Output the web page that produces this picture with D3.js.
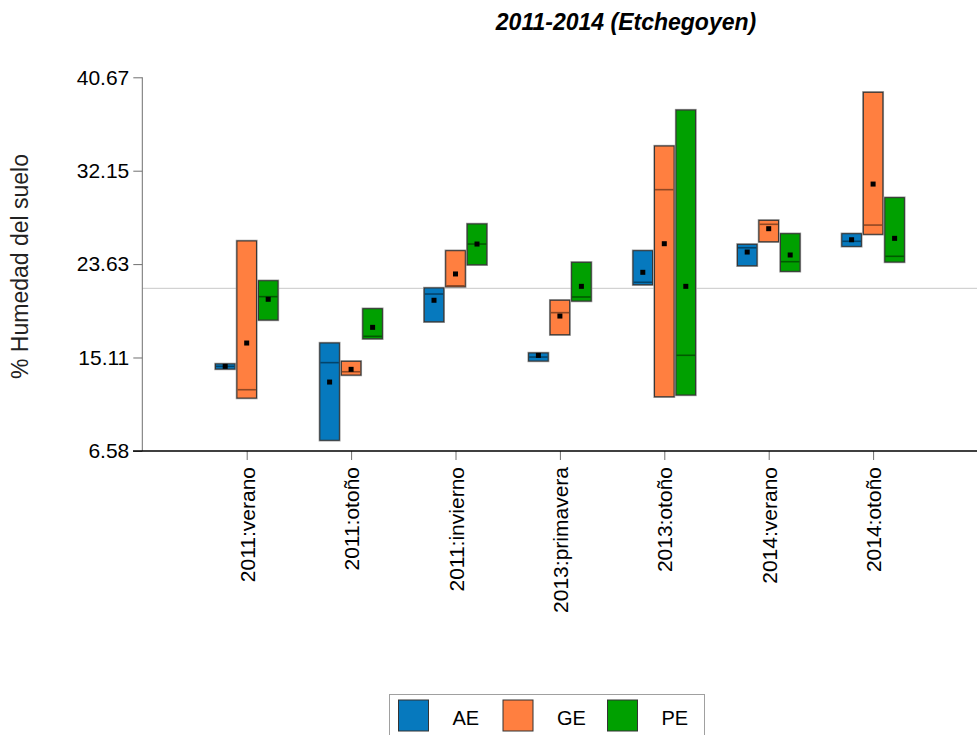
<!DOCTYPE html>
<html>
<head>
<meta charset="utf-8">
<script src="https://cdn.jsdelivr.net/npm/d3@7/dist/d3.min.js"></script>
<style>
  html, body { margin: 0; padding: 0; background: #fff; }
  svg { display: block; font-family: "Liberation Sans", Arial, sans-serif; }
</style>
</head>
<body>
<svg id="chart" width="977" height="735"></svg>
<script>
const categories = ["2011:verano","2011:otoño","2011:invierno","2013:primavera","2013:otoño","2014:verano","2014:otoño"];
const groups = ["AE","GE","PE"];
const groupColors = ["#0679BE","#FF7F40","#00A000"];
const yTicks = [6.58, 15.11, 23.63, 32.15, 40.67];
const yDomain = [6.58, 40.67];
const refLine = 21.42;

const AE_low    = [14.06, 7.56, 18.37, 14.79, 21.75, 23.48, 25.25];
const AE_high   = [14.52, 16.43, 21.45, 15.52, 24.85, 25.43, 26.40];
const AE_median = [14.30, 14.64, 20.90, 15.15, 21.97, 25.12, 25.71];
const AE_mean   = [14.30, 12.87, 20.33, 15.30, 22.88, 24.73, 25.85];

const GE_low    = [11.41, 13.51, 21.57, 17.19, 11.53, 25.67, 26.35];
const GE_high   = [25.74, 14.76, 24.85, 20.33, 34.40, 27.62, 39.30];
const GE_median = [12.17, 13.81, 21.65, 19.20, 30.42, 27.26, 27.19];
const GE_mean   = [16.43, 14.03, 22.73, 18.89, 25.49, 26.86, 30.93];

const PE_low    = [18.53, 16.82, 23.57, 20.26, 11.69, 22.97, 23.82];
const PE_high   = [22.11, 19.56, 27.29, 23.79, 37.68, 26.40, 29.69];
const PE_median = [20.66, 17.04, 25.46, 20.63, 15.31, 23.85, 24.34];
const PE_mean   = [20.42, 17.86, 25.46, 21.60, 21.60, 24.46, 25.98];

const seriesData = {
  AE: {low: AE_low, high: AE_high, median: AE_median, mean: AE_mean},
  GE: {low: GE_low, high: GE_high, median: GE_median, mean: GE_mean},
  PE: {low: PE_low, high: PE_high, median: PE_median, mean: PE_mean}
};

const svg = d3.select("#chart");
const mLeft = 142.3, mRight = 977.5, mTop = 77.3, mBottom = 451;

const x = d3.scalePoint().domain(categories).range([mLeft, mRight]).padding(1);
const y = d3.scaleLinear().domain(yDomain).range([mBottom, mTop]);
const xs = d3.scaleBand().domain(groups).range([-31.25, 31.25]).paddingInner(0.093);
const color = d3.scaleOrdinal().domain(groups).range(groupColors);

// title
svg.append("text")
  .attr("x", 626).attr("y", 30)
  .attr("text-anchor", "middle")
  .attr("font-size", 23).attr("font-weight", "bold").attr("font-style", "italic")
  .attr("fill", "#000")
  .text("2011-2014 (Etchegoyen)");

// reference line
svg.append("line")
  .attr("x1", mLeft).attr("x2", 977)
  .attr("y1", y(refLine)).attr("y2", y(refLine))
  .attr("stroke", "#c8c8c8").attr("stroke-width", 1);

// y axis
const yAxis = d3.axisLeft(y).tickValues(yTicks).tickFormat(d => d.toFixed(2)).tickSize(9).tickPadding(4);
const gy = svg.append("g").attr("transform", `translate(${mLeft},0)`).call(yAxis);
gy.select(".domain").attr("stroke", "#707070").attr("d", `M0,${mTop}V${mBottom}`);
gy.selectAll(".tick line").attr("stroke", "#707070");
gy.selectAll(".tick text").attr("font-size", 21).attr("fill", "#000")
  .attr("font-family", "Liberation Sans, Arial, sans-serif");

// x axis
const xAxis = d3.axisBottom(x).tickSize(9).tickSizeOuter(0);
const gx = svg.append("g").attr("transform", `translate(0,${mBottom})`).call(xAxis);
gx.select(".domain").remove();
gx.selectAll(".tick line").attr("stroke", "#707070");
gx.selectAll(".tick text")
  .attr("font-size", 21).attr("fill", "#000")
  .attr("font-family", "Liberation Sans, Arial, sans-serif")
  .attr("text-anchor", "end")
  .attr("transform", "rotate(-90)")
  .attr("x", -16).attr("y", 0).attr("dy", "0.36em");
svg.append("line")
  .attr("x1", 133).attr("x2", 977)
  .attr("y1", mBottom).attr("y2", mBottom)
  .attr("stroke", "#000").attr("stroke-width", 1.4);

// y axis title
svg.append("text")
  .attr("transform", `translate(28,266.5) rotate(-90)`)
  .attr("text-anchor", "middle")
  .attr("font-size", 23).attr("fill", "#222")
  .text("% Humedad del suelo");

// boxes
const boxes = [];
groups.forEach(g => {
  categories.forEach((c, i) => {
    const s = seriesData[g];
    boxes.push({g, c, low: s.low[i], high: s.high[i], median: s.median[i], mean: s.mean[i]});
  });
});

const gb = svg.append("g");
const item = gb.selectAll("g.box").data(boxes).join("g").attr("class", "box");
item.append("rect")
  .attr("x", d => x(d.c) + xs(d.g))
  .attr("y", d => y(d.high))
  .attr("width", xs.bandwidth())
  .attr("height", d => y(d.low) - y(d.high))
  .attr("fill", d => color(d.g))
  .attr("stroke", "#9a9a9a").attr("stroke-width", 2.4);
item.append("rect")
  .attr("x", d => x(d.c) + xs(d.g))
  .attr("y", d => y(d.high))
  .attr("width", xs.bandwidth())
  .attr("height", d => y(d.low) - y(d.high))
  .attr("fill", d => color(d.g))
  .attr("stroke", "#333").attr("stroke-width", 1);
item.append("line")
  .attr("x1", d => x(d.c) + xs(d.g) + 0.5)
  .attr("x2", d => x(d.c) + xs(d.g) + xs.bandwidth() - 0.5)
  .attr("y1", d => y(d.median)).attr("y2", d => y(d.median))
  .attr("stroke", d => d3.color(color(d.g)).darker(1.6))
  .attr("stroke-width", 1.6);
item.append("rect")
  .attr("x", d => x(d.c) + xs(d.g) + xs.bandwidth() / 2 - 2.5)
  .attr("y", d => y(d.mean) - 2.5)
  .attr("width", 5).attr("height", 5)
  .attr("fill", "#000");

// legend
const lg = svg.append("g");
lg.append("rect")
  .attr("x", 389.5).attr("y", 694.5).attr("width", 315).attr("height", 50)
  .attr("fill", "#fff").attr("stroke", "#a0a0a0").attr("stroke-width", 1);
const li = lg.selectAll("g.li").data(groups).join("g").attr("class", "li")
  .attr("transform", (d, i) => `translate(${398.5 + i * 104.5},700)`);
li.append("rect")
  .attr("width", 30).attr("height", 31)
  .attr("fill", d => color(d)).attr("stroke", "#333").attr("stroke-width", 1);
li.append("text")
  .attr("x", 54).attr("y", 25)
  .attr("font-size", 20).attr("fill", "#000")
  .text(d => d);
</script>
</body>
</html>
